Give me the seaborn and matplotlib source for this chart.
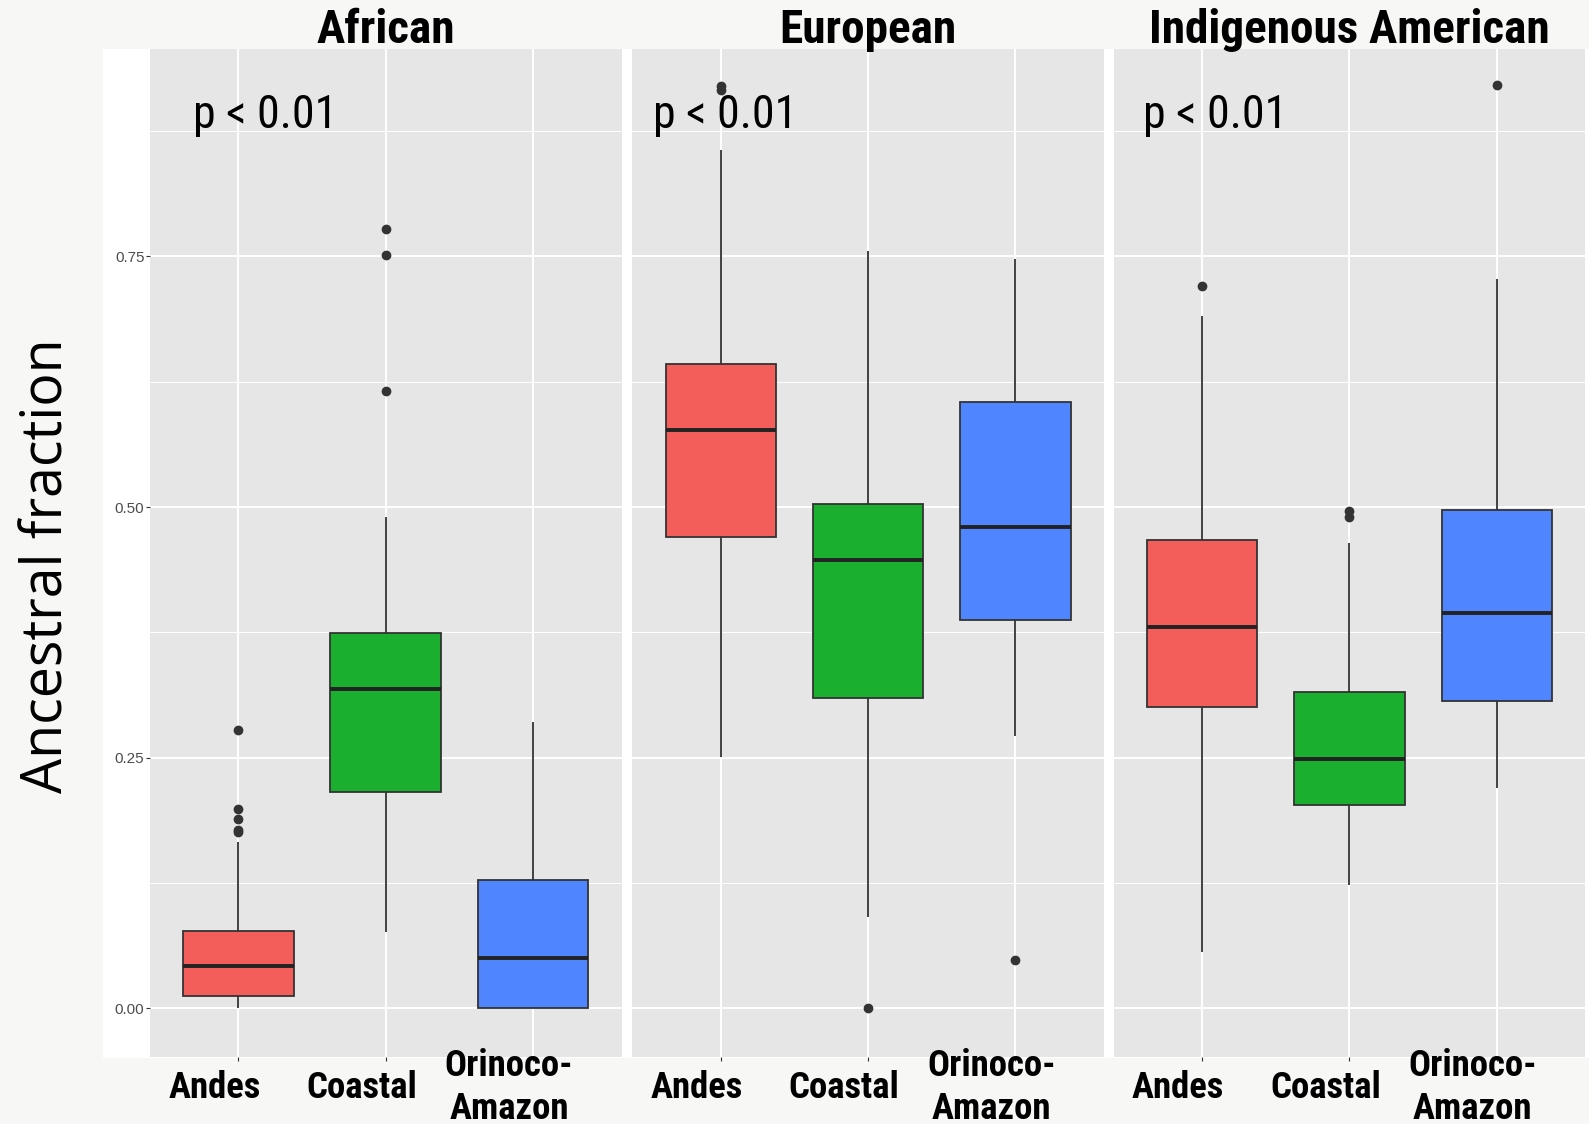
# plot.py - ancestral fraction boxplots by region, faceted by ancestry
import numpy as np
import pandas as pd
import seaborn as sns
import matplotlib.pyplot as plt
from matplotlib.patches import Rectangle
from matplotlib.transforms import ScaledTranslation

# 1. Values
ancestries = ['African', 'European', 'Indigenous American']
regions = ['Andes', 'Coastal', 'Orinoco-\nAmazon']
region_colors = ['#F35E5A', '#1AAF2E', '#4F86FF']
p_labels = ['p < 0.01', 'p < 0.01', 'p < 0.01']
y_ticks = [0.0, 0.25, 0.5, 0.75]
y_tick_labels = ['0.00', '0.25', '0.50', '0.75']

# box summaries, order: African (Andes, Coastal, Orinoco), European (...), Indigenous American (...)
lower_whisker = [0.000, 0.076, 0.000, 0.251, 0.091, 0.272, 0.056, 0.123, 0.220]
q1 = [0.012, 0.216, 0.000, 0.470, 0.310, 0.387, 0.301, 0.203, 0.307]
median = [0.042, 0.318, 0.050, 0.577, 0.447, 0.480, 0.380, 0.249, 0.394]
q3 = [0.077, 0.374, 0.128, 0.643, 0.503, 0.605, 0.467, 0.315, 0.497]
upper_whisker = [0.166, 0.490, 0.286, 0.856, 0.755, 0.747, 0.691, 0.464, 0.727]
outliers = [
    [0.176, 0.178, 0.189, 0.199, 0.278], [0.616, 0.751, 0.777], [],
    [0.916, 0.920], [0.000], [0.048],
    [0.720], [0.490, 0.496], [0.921],
]


def sample_from_summary(lo, a, m, b, hi, extra, k=12):
    # a small sample whose quartiles / whiskers / fliers reproduce the summary
    return [lo] + [a] * k + [m] * k + [b] * k + [hi] + list(extra)


rows = []
for i, anc in enumerate(ancestries):
    for j, reg in enumerate(regions):
        n = 3 * i + j
        for v in sample_from_summary(lower_whisker[n], q1[n], median[n], q3[n],
                                     upper_whisker[n], outliers[n]):
            rows.append([anc, reg, v])
df = pd.DataFrame(rows, columns=['Ancestry', 'Region', 'Fraction'])

# 2. Style
sns.set_theme(style='darkgrid')
plt.rcParams['font.family'] = ['Liberation Sans', 'DejaVu Sans']
narrow = ['Roboto Condensed', 'IBM Plex Sans Condensed', 'DejaVu Sans']

W, H = 1589, 1124
fig = plt.figure(figsize=(W / 100, H / 100), dpi=100)
fig.patch.set_facecolor('#F7F7F5')
fig.patches.append(Rectangle((103 / W, 1 - 1058 / H), 1 - 103 / W, (1058 - 48.6) / H,
                             transform=fig.transFigure, facecolor='white',
                             edgecolor='none', zorder=-5))

panel_left = [150 / W, 632.4 / W, 1113.7 / W]
panel_w = 471.5 / W
panel_b = 1 - 1057 / H
panel_h = (1057 - 48.6) / H
p_x = [-0.31, -0.46, -0.40]

for i, anc in enumerate(ancestries):
    ax = fig.add_axes([panel_left[i], panel_b, panel_w, panel_h])
    ax.set_facecolor('#E6E6E6')
    sub = df[df['Ancestry'] == anc]
    sns.boxplot(
        data=sub, x='Region', y='Fraction', hue='Region',
        order=regions, hue_order=regions, palette=region_colors,
        saturation=1, width=0.75, dodge=False, legend=False,
        linewidth=1.3, linecolor='#333333', showcaps=False,
        fliersize=6,
        flierprops=dict(marker='o', markerfacecolor='#333333', markeredgecolor='#333333'),
        medianprops=dict(color='#222222', linewidth=2.8),
        ax=ax,
    )
    ax.set_xlim(-0.6, 2.6)
    ax.set_ylim(-0.0486, 0.9573)
    ax.set_axisbelow(True)
    ax.set_yticks(y_ticks)
    ax.set_yticks([0.125, 0.375, 0.625, 0.875], minor=True)
    ax.grid(True, which='major', color='white', linewidth=1.4)
    ax.grid(True, which='minor', axis='y', color='white', linewidth=0.7)
    ax.tick_params(which='minor', length=0)
    for s in ax.spines.values():
        s.set_visible(False)
    ax.set_xlabel('')
    ax.set_ylabel('')

    if i == 0:
        ax.set_yticklabels(y_tick_labels)
        ax.tick_params(axis='y', which='major', length=3, width=0.8, color='#333333',
                       labelsize=11, labelcolor='#4D4D4D', pad=1, left=True)
    else:
        ax.tick_params(axis='y', which='major', length=0, labelleft=False)

    ax.tick_params(axis='x', which='major', length=3, width=0.8, color='#333333',
                   pad=19, bottom=True)
    ax.set_xticks(range(len(regions)))
    ax.set_xticklabels(regions, fontsize=26.5, fontweight='bold', family=narrow,
                       color='black', linespacing=1.22)
    shift = ScaledTranslation(-0.24, 0, fig.dpi_scale_trans)
    for lbl in ax.get_xticklabels():
        lbl.set_va('center')
        lbl.set_transform(lbl.get_transform() + shift)

    ax.set_title(anc, fontsize=34, fontweight='bold', family=narrow, pad=4, color='black')
    ax.text(p_x[i], 0.891, p_labels[i], fontsize=33, family=narrow,
            ha='left', va='center', color='black')

fig.text(48.5 / W, 1 - 566 / H, 'Ancestral fraction', rotation=90,
         ha='center', va='center', fontsize=40, family=['Open Sans', 'DejaVu Sans'],
         color='black')

fig.savefig('out.png', dpi=100, facecolor=fig.get_facecolor())
